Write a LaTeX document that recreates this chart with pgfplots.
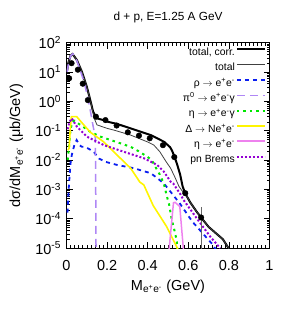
\documentclass[border=0pt]{standalone}
\usepackage{fontspec}
\setmainfont{Liberation Sans}
\usepackage{pgfplots}
\pgfplotsset{compat=1.18}
\definecolor{rhoblue}{RGB}{10,30,240}
\definecolor{pipurple}{RGB}{175,135,245}
\definecolor{etagreen}{RGB}{0,230,0}
\definecolor{deltayellow}{RGB}{255,245,0}
\definecolor{etapink}{RGB}{238,130,238}
\definecolor{brempurple}{RGB}{148,0,211}
\begin{document}
\begin{tikzpicture}
\path (-66.5pt,-67pt) rectangle (233.5pt,248pt);
\begin{axis}[
  at={(0pt,0pt)}, anchor=south west,
  scale only axis, width=203pt, height=205.3pt,
  ymode=log, xmin=0, xmax=1, ymin=1e-5, ymax=100,
  xtick={0,0.2,0.4,0.6,0.8,1}, xticklabels={0,0.2,0.4,0.6,0.8,1},
  minor x tick num=9,
  ytick={1e-5,1e-4,1e-3,1e-2,1e-1,1,10,100},
  yticklabels={10\textsuperscript{-5},10\textsuperscript{-4},10\textsuperscript{-3},10\textsuperscript{-2},10\textsuperscript{-1},10\textsuperscript{0},10\textsuperscript{1},10\textsuperscript{2}},
  tick align=inside, major tick length=6pt, minor tick length=3pt,
  tick style={black, line width=0.5pt},
  axis line style={line width=0.8pt},
  ticklabel style={font=\fontsize{14.5}{16}\selectfont},
  xticklabel style={anchor=base, yshift=-22pt},
  yticklabel style={anchor=east, xshift=-2pt},
  xlabel={M\textsubscript{e\textsuperscript{+}e\textsuperscript{-}} (GeV)},
  xlabel style={at={(axis description cs:0.5,-0.2046)}, anchor=base, font=\fontsize{14.5}{16}\selectfont},
  ylabel={dσ/dM\textsubscript{e\textsuperscript{+}e\textsuperscript{-}} (μb/GeV)},
  ylabel style={at={(axis description cs:-0.229,0.5)}, anchor=base, font=\fontsize{14.5}{16}\selectfont},
  title={d + p, E=1.25 A GeV},
  title style={at={(axis description cs:0.5,1.0765)}, anchor=base, font=\fontsize{11.8}{13}\selectfont},
  legend plot pos=right,
  legend cell align=right,
  legend image code/.code={\draw[#1] (0pt,3.5pt) -- (28pt,3.5pt);},
  legend style={at={(axis description cs:0.983,0.9815)}, anchor=north east, draw=none, fill=none, inner sep=0pt,
    font=\fontsize{10.4}{12}\selectfont, row sep=2.8pt,
    nodes={inner sep=1pt, text height=8pt, text depth=2.5pt},
    /tikz/every even column/.append style={column sep=4pt}},
]
% total, corr.
\addplot[black, line width=2pt] coordinates {
(0.003,11) (0.010,22) (0.020,36) (0.030,41) (0.051,25.7) (0.076,10.2) (0.100,3.16)
(0.117,1.12) (0.131,0.447) (0.143,0.302) (0.150,0.263) (0.183,0.229) (0.200,0.204)
(0.249,0.170) (0.316,0.120) (0.415,0.0708) (0.481,0.0417) (0.510,0.0275) (0.520,0.0209)
(0.530,0.0141) (0.545,0.00708) (0.560,0.00316) (0.572,0.00126) (0.585,7.24e-4)
(0.610,3.55e-4) (0.640,1.78e-4) (0.665,1.05e-4) (0.700,5.25e-5) (0.740,3.02e-5)
(0.770,2.0e-5) (0.800,9.5e-6)};
\addlegendentry{total, corr.}
% total
\addplot[black!75, line width=0.8pt] coordinates {
(0.003,11) (0.010,22) (0.020,36) (0.030,41) (0.051,25.7) (0.076,10.2) (0.100,3.16)
(0.117,1.12) (0.125,0.63) (0.135,0.28) (0.150,0.158) (0.200,0.120) (0.233,0.105)
(0.316,0.0708) (0.398,0.0417) (0.430,0.0324) (0.460,0.0191) (0.490,0.0089)
(0.513,0.00525) (0.535,0.00251) (0.554,0.00126) (0.575,7.9e-4) (0.585,7.24e-4)
(0.610,3.55e-4) (0.640,1.78e-4) (0.665,1.05e-4) (0.700,5.25e-5) (0.740,3.02e-5)
(0.770,2.0e-5) (0.800,9.5e-6)};
\addlegendentry{total}
% rho
\addplot[rhoblue, line width=1.8pt, dash pattern=on 4pt off 4pt] coordinates {
(0.005,1.6e-4) (0.010,7.9e-4) (0.013,1.8e-3) (0.020,7.9e-3) (0.026,0.0148) (0.040,0.0355)
(0.050,0.0479) (0.065,0.0316) (0.076,0.0282) (0.092,0.0282) (0.110,0.024) (0.134,0.0191)
(0.160,0.0112) (0.191,0.0087) (0.249,0.0068) (0.332,0.00525) (0.361,0.00457)
(0.415,0.00355) (0.444,0.00251) (0.480,0.00158) (0.526,6.3e-4) (0.559,3.24e-4)
(0.592,1.51e-4) (0.620,7.9e-5) (0.658,4.0e-5) (0.690,2.24e-5) (0.720,1.32e-5) (0.740,7.9e-6)};
\addlegendentry{ρ $\rightarrow$ e\textsuperscript{+}e\textsuperscript{-}}
% pi0 Dalitz
\addplot[pipurple, line width=1.5pt, dash pattern=on 8pt off 5pt] coordinates {
(0.003,10) (0.010,20) (0.020,35.5) (0.031,41.7) (0.050,25.1) (0.067,11.7) (0.085,5.0)
(0.100,1.9) (0.117,0.5) (0.130,0.158) (0.142,0.056) (0.1445,3e-4) (0.146,1e-6)};
\addlegendentry{π\textsuperscript{0} $\rightarrow$ e\textsuperscript{+}e\textsuperscript{-}γ}
% eta Dalitz
\addplot[etagreen, line width=2pt, dash pattern=on 2.5pt off 4pt] coordinates {
(0.006,0.01) (0.013,0.0316) (0.020,0.112) (0.030,0.209) (0.040,0.219) (0.050,0.191)
(0.089,0.126) (0.100,0.105) (0.166,0.063) (0.265,0.0372) (0.316,0.0282) (0.360,0.0191)
(0.398,0.0129) (0.420,0.01) (0.447,0.00447) (0.460,0.00316) (0.480,0.00151)
(0.495,5.6e-4) (0.505,3.16e-4) (0.519,8.9e-5) (0.530,4.5e-5) (0.543,1.78e-5) (0.549,6.3e-6)};
\addlegendentry{η $\rightarrow$ e\textsuperscript{+}e\textsuperscript{-}γ}
% Delta
\addplot[deltayellow, line width=1.6pt] coordinates {
(0.007,0.0214) (0.013,0.0251) (0.018,0.1) (0.024,0.302) (0.050,0.302) (0.081,0.17)
(0.117,0.089) (0.183,0.0417) (0.249,0.0148) (0.316,0.00525) (0.361,0.00178)
(0.381,0.00141) (0.427,2.8e-4) (0.493,5.4e-5) (0.543,1.1e-5) (0.555,7e-6)};
\addlegendentry{Δ $\rightarrow$ Ne\textsuperscript{+}e\textsuperscript{-}}
% eta -> ee
\addplot[etapink, line width=1.5pt] coordinates {
(0.503,6e-6) (0.527,3.5e-4) (0.535,3.6e-4) (0.558,2.6e-4) (0.578,6e-6)};
\addlegendentry{η $\rightarrow$ e\textsuperscript{+}e\textsuperscript{-}}
% pn Brems
\addplot[brempurple, line width=2pt, dash pattern=on 2pt off 2pt] coordinates {
(0.006,0.112) (0.015,0.2) (0.026,0.263) (0.050,0.141) (0.100,0.063) (0.183,0.0324)
(0.282,0.0191) (0.381,0.0115) (0.447,0.00676) (0.480,0.00398) (0.513,0.00182)
(0.526,0.00158) (0.563,6.5e-4) (0.576,4.4e-4) (0.642,1.02e-4) (0.708,2.45e-5) (0.757,9.8e-6)};
\addlegendentry{pn Brems}
% error bars
\addplot[forget plot, only marks, mark=none, error bars/.cd, y dir=both, y explicit,
  error bar style={black!60, line width=0.6pt}, error mark=none] coordinates {
(0.663,1.1e-4) += (0,1.5e-4) -= (0,1.09e-4)
(0.585,7.4e-4) += (0,1.5e-4) -= (0,1.5e-4)};
% data
\addplot[forget plot, only marks, mark=*, mark size=2.8pt, black] coordinates {
(0.013,6.1) (0.025,20) (0.056,12) (0.080,4.0) (0.105,1.1) (0.145,0.3) (0.192,0.23)
(0.247,0.15) (0.302,0.088) (0.357,0.068) (0.410,0.055) (0.475,0.032) (0.531,0.0126)
(0.585,7.4e-4) (0.663,1.1e-4)};
\end{axis}
\end{tikzpicture}
\end{document}
